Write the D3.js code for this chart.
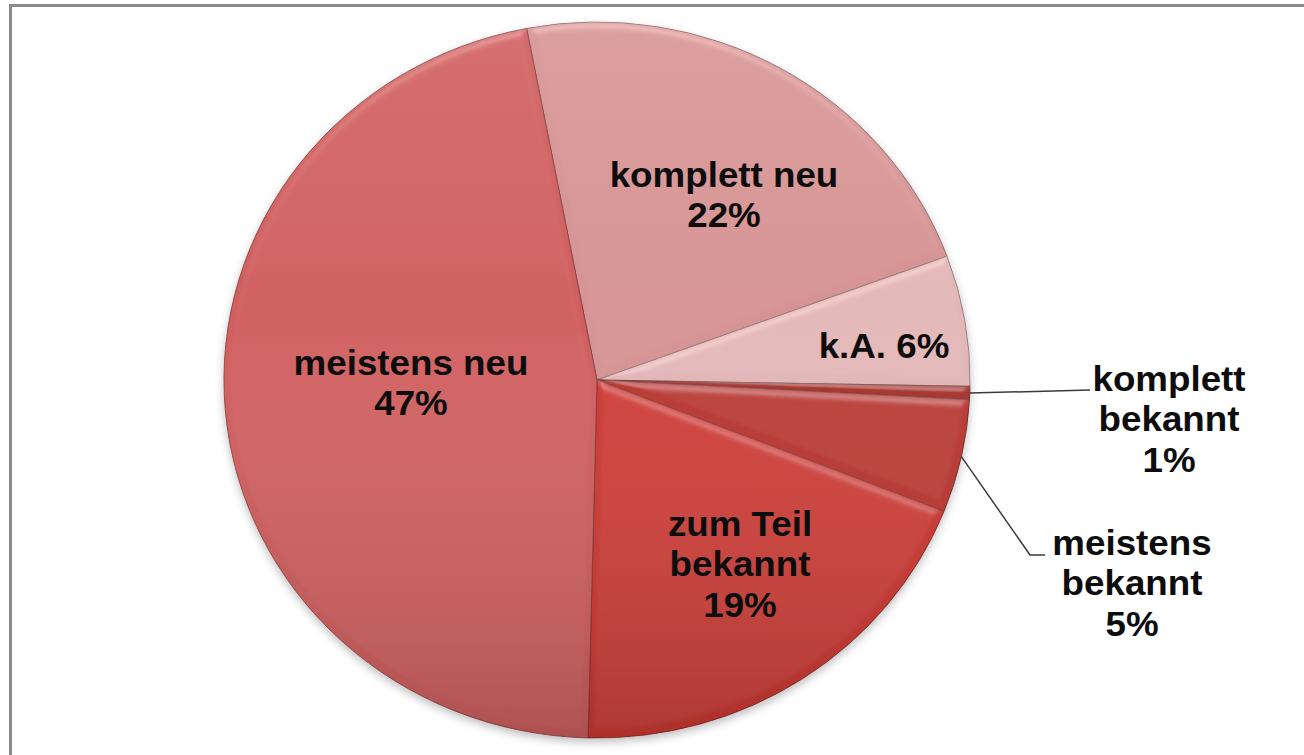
<!DOCTYPE html>
<html>
<head>
<meta charset="utf-8">
<script src="https://cdn.jsdelivr.net/npm/d3@7"></script>
<style>
  html, body { margin: 0; padding: 0; background: #fff; overflow: hidden; }
  svg { display: block; }
  .lbl { font-family: "Liberation Sans", Arial, sans-serif; font-weight: bold; font-size: 35px; fill: #0d0d0d; }
</style>
</head>
<body>
<svg width="1304" height="755"></svg>
<script>
// slice data, clockwise from the top
var categories = ["komplett neu", "k.A.", "komplett bekannt", "meistens bekannt", "zum Teil bekannt", "meistens neu"];
var values = [22.4, 5.9, 0.6, 5.1, 19.4, 46.6];
// how each label is broken into lines (percent goes on its own line unless inline)
var labelLines = [["komplett neu"], ["k.A."], ["komplett", "bekannt"], ["meistens", "bekannt"], ["zum Teil", "bekannt"], ["meistens neu"]];
var percentInline = [false, true, false, false, false, false];
var colors = ["#d69393", "#e2b6b6", "#a8322c", "#b93730", "#cd3933", "#d05e5e"];

// layout: label anchors relative to pie centre (x centre, first baseline)
var labelPos = [[127, -193], [287, -22], [572, 11], [535, 175], [143, 156], [-186, -5]];
// leader lines for outside labels: list of bend points relative to centre (null = no leader)
var leaders = [null, null, [[493, 10]], [[433, 175], [448, 175]], null, null];

var W = 1304, H = 755;
var cx = 597, cy = 380, r = 358, sx = 1.042;
var startAngle = -10.87 * Math.PI / 180;

var svg = d3.select("svg");
var defs = svg.append("defs");

// soft bevel, lit from the top
var bevel = defs.append("filter").attr("id", "bevel")
    .attr("x", "-10%").attr("y", "-10%").attr("width", "120%").attr("height", "120%");
bevel.append("feGaussianBlur").attr("in", "SourceAlpha").attr("stdDeviation", 4).attr("result", "blur");
var spec = bevel.append("feSpecularLighting").attr("in", "blur")
    .attr("surfaceScale", 4).attr("specularConstant", 0.5).attr("specularExponent", 24)
    .attr("lighting-color", "#ffffff").attr("result", "spec");
spec.append("feDistantLight").attr("azimuth", 270).attr("elevation", 40);
bevel.append("feComposite").attr("in", "spec").attr("in2", "SourceAlpha").attr("operator", "in").attr("result", "specIn");
bevel.append("feComposite").attr("in", "SourceGraphic").attr("in2", "specIn")
    .attr("operator", "arithmetic").attr("k1", 0).attr("k2", 1).attr("k3", 0.3).attr("k4", 0);

// drop shadow under the whole pie
var shadow = defs.append("filter").attr("id", "shadow")
    .attr("x", "-10%").attr("y", "-10%").attr("width", "120%").attr("height", "125%");
shadow.append("feDropShadow").attr("dx", 0).attr("dy", 4).attr("stdDeviation", 4)
    .attr("flood-color", "#000").attr("flood-opacity", 0.25);

// top-to-bottom light over the whole pie
var shade = defs.append("linearGradient").attr("id", "shade")
    .attr("x1", 0).attr("y1", 0).attr("x2", 0).attr("y2", 1);
shade.append("stop").attr("offset", "0%").attr("stop-color", "#fff").attr("stop-opacity", 0.08);
shade.append("stop").attr("offset", "40%").attr("stop-color", "#fff").attr("stop-opacity", 0);
shade.append("stop").attr("offset", "100%").attr("stop-color", "#000").attr("stop-opacity", 0.16);

var pie = d3.pie().sort(null).value(function (d) { return d; })
    .startAngle(startAngle).endAngle(startAngle + 2 * Math.PI);
var arcs = pie(values);
var arc = d3.arc().innerRadius(0).outerRadius(r);

var g = svg.append("g")
    .attr("transform", "translate(" + cx + "," + cy + ") scale(" + sx + ",1)")
    .attr("filter", "url(#shadow)");

g.selectAll("path.slice")
    .data(arcs)
    .enter().append("path")
    .attr("class", "slice")
    .attr("d", arc)
    .attr("fill", function (d, i) { return colors[i]; })
    .attr("stroke", function (d, i) { return d3.color(colors[i]).darker(1.4); })
    .attr("stroke-width", 0.8)
    .attr("filter", "url(#bevel)");

g.append("circle").attr("r", r)
    .attr("fill", "url(#shade)")
    .attr("pointer-events", "none");

// leader lines
var pt = function (a, rad) {
    return [cx + Math.sin(a) * rad * sx, cy - Math.cos(a) * rad];
};
arcs.forEach(function (d, i) {
    if (!leaders[i]) return;
    var mid = (d.startAngle + d.endAngle) / 2;
    var pts = [pt(mid, r)].concat(leaders[i].map(function (p) { return [cx + p[0], cy + p[1]]; }));
    svg.append("path")
        .attr("d", d3.line()(pts))
        .attr("fill", "none")
        .attr("stroke", "#3a3a3a")
        .attr("stroke-width", 1.5);
});

// labels
var lineH = 40.5;
arcs.forEach(function (d, i) {
    var pct = Math.round(values[i]) + "%";
    var lines = labelLines[i].slice();
    if (percentInline[i]) {
        lines[lines.length - 1] += " " + pct;
    } else {
        lines.push(pct);
    }
    var t = svg.append("text")
        .attr("class", "lbl")
        .attr("text-anchor", "middle")
        .attr("transform", "translate(" + (cx + labelPos[i][0]) + "," + (cy + labelPos[i][1]) + ") scale(1.05,1)");
    lines.forEach(function (s, k) {
        t.append("tspan").attr("x", 0).attr("y", k * lineH).text(s);
    });
});

// outer frame (runs off the right and bottom edges)
svg.append("rect")
    .attr("x", 10.5).attr("y", 5.5)
    .attr("width", W + 40).attr("height", H + 40)
    .attr("fill", "none")
    .attr("stroke", "#8a8a8a")
    .attr("stroke-width", 3);
</script>
</body>
</html>
